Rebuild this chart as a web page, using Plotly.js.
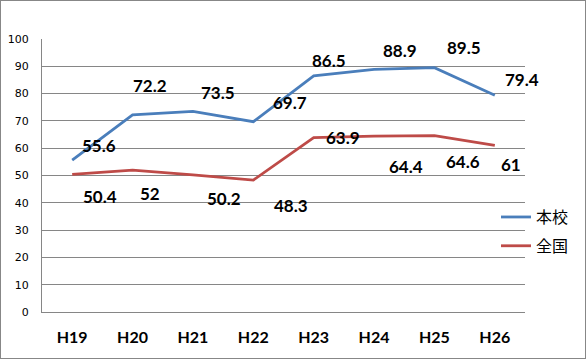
<!DOCTYPE html>
<html>
<head>
<meta charset="utf-8">
<script src="https://cdn.plot.ly/plotly-3.0.1.min.js"></script>
<style>
html,body{margin:0;padding:0;background:#fff;}
#chart{width:584px;height:357px;border:1px solid #878787;}
</style>
</head>
<body>
<div id="chart"></div>
<script>
const categories = ["H19","H20","H21","H22","H23","H24","H25","H26"];
const schoolName = "本校";
const schoolValues = [55.6, 72.2, 73.5, 69.7, 86.5, 88.9, 89.5, 79.4];
const nationalName = "全国";
const nationalValues = [50.4, 52, 50.2, 48.3, 63.9, 64.4, 64.6, 61];
const yTicks = [0,10,20,30,40,50,60,70,80,90,100];

// label offsets (pixels) for the hand-placed data labels
const schoolShiftX = [27, 17, 25, 37, 15, 26, 30, 27];
const schoolShiftY = [15, 29, 19, 19, 15, 19, 20, 16];
const nationalShiftX = [28, 17, 31, 38, 29, 32, 29, 16];
const nationalShiftY = [-22, -23, -24, -25, 0, -30, -26, -19];

const labelFont = {family: "Lato, 'Open Sans', sans-serif", size: 17, color: "#000", weight: "bold"};
function labels(vals, sx, sy) {
  return vals.map((v, i) => ({
    x: categories[i], y: v, xref: "x", yref: "y", text: String(v),
    showarrow: false, xshift: sx[i], yshift: sy[i], font: labelFont
  }));
}

const traces = [
  {x: categories, y: schoolValues, name: schoolName, legendgroup: "a", type: "scatter", mode: "lines",
   line: {color: "#4A7EBB", width: 2.8}},
  {x: categories, y: nationalValues, name: nationalName, legendgroup: "b", type: "scatter", mode: "lines",
   line: {color: "#BE4B48", width: 2.8}}
];

const layout = {
  width: 584, height: 357,
  margin: {l: 41, r: 59, t: 38, b: 46, pad: 0},
  paper_bgcolor: "#fff", plot_bgcolor: "#fff",
  showlegend: true,
  legend: {x: 0.938, y: 0.41, xanchor: "left", yanchor: "top",
    bgcolor: "rgba(0,0,0,0)", font: {family: "'Noto Sans CJK JP', sans-serif", size: 16, color: "#000"},
    tracegroupgap: 5},
  xaxis: {
    type: "category", range: [-0.5, 7.5], showgrid: false, zeroline: false,
    showline: true, linecolor: "#868686", linewidth: 1, ticks: "",
    tickfont: {family: "Lato, 'Open Sans', sans-serif", size: 16, color: "#000", weight: "bold"},
    ticklabelstandoff: 11, fixedrange: true
  },
  yaxis: {
    range: [0, 100], tickvals: yTicks, showgrid: true, gridcolor: "#868686", gridwidth: 1,
    zeroline: false, showline: true, linecolor: "#868686", linewidth: 1, ticks: "",
    tickfont: {family: "'DejaVu Sans', sans-serif", size: 11, color: "#000"},
    ticklabelstandoff: 10, fixedrange: true
  },
  annotations: labels(schoolValues, schoolShiftX, schoolShiftY)
    .concat(labels(nationalValues, nationalShiftX, nationalShiftY))
};

Plotly.newPlot("chart", traces, layout, {staticPlot: true, displayModeBar: false});
</script>
</body>
</html>
